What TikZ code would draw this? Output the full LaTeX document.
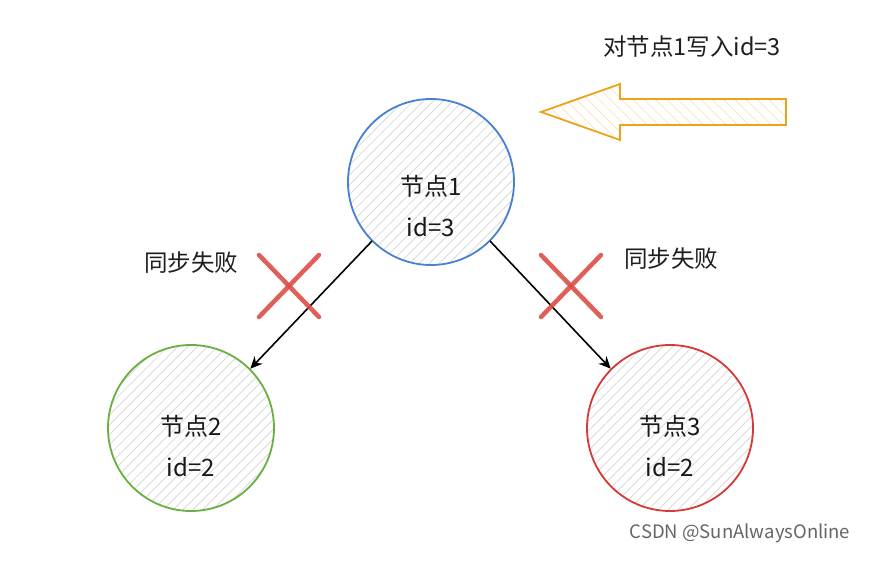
\documentclass[tikz,border=0pt]{standalone}
\usepackage{fontspec}
\setmainfont{Noto Sans CJK SC}
\usetikzlibrary{patterns.meta,arrows.meta}
\definecolor{nblue}{RGB}{74,128,208}
\definecolor{ngreen}{RGB}{104,176,64}
\definecolor{nred}{RGB}{214,58,54}
\definecolor{xred}{RGB}{220,78,72}
\definecolor{norange}{RGB}{238,162,28}
\definecolor{hatch}{RGB}{212,212,212}
\tikzset{
  nodecirc/.style={circle,minimum size=166pt,inner sep=0pt,line width=1.8pt,
    pattern={Lines[angle=45,distance=7pt,line width=0.7pt]},pattern color=hatch},
  nodetxt/.style={align=center,font=\fontsize{24pt}{41pt}\selectfont,text=black!90},
  conn/.style={line width=1.6pt,-{Stealth[length=12pt,width=11pt]}},
  xmark/.style={xred,line width=4.5pt,line cap=round,opacity=0.9},
  lbl/.style={font=\fontsize{23.5pt}{26pt}\selectfont,text=black!88},
}
\begin{document}
\begin{tikzpicture}[x=1pt,y=-1pt]
\fill[white] (0,0) rectangle (880,564);
\useasboundingbox (0,0) rectangle (880,564);
\node[nodecirc,draw=nblue] (n1) at (431,182) {};
\node[nodecirc,draw=ngreen] (n2) at (191,428) {};
\node[nodecirc,draw=nred] (n3) at (670,428) {};
\node[nodetxt] (t1) at (431,206) {节点1\\id=3};
\node[nodetxt] (t2) at (191,446) {节点2\\id=2};
\node[nodetxt] (t3) at (670,446) {节点3\\id=2};
\draw[conn] (n1.225) -- (n2.45);
\draw[conn] (n1.315) -- (n3.135);
% X marks
\coordinate (xa1) at (259,255); \coordinate (xa2) at (319,317);
\coordinate (xa3) at (319,255); \coordinate (xa4) at (259,317);
\draw[xmark] (xa1) -- (xa2); \draw[xmark] (xa3) -- (xa4);
\coordinate (xb1) at (541,255); \coordinate (xb2) at (601,317);
\coordinate (xb3) at (601,255); \coordinate (xb4) at (541,317);
\draw[xmark] (xb1) -- (xb2); \draw[xmark] (xb3) -- (xb4);
\node[lbl] (f1) at (191,263) {同步失败};
\node[lbl] (f2) at (671,259) {同步失败};
% orange arrow
\draw[norange,line width=1.8pt,line join=miter,
  pattern={Lines[angle=-45,distance=8pt,line width=0.7pt]},pattern color=norange!30]
  (541,112) -- (620,84) -- (620,99) -- (786,99) -- (786,125) -- (620,125) -- (620,140) -- cycle;
\node[lbl] (w) at (692,47) {对节点1写入id=3};
\node[font=\fontsize{18.5pt}{20pt}\selectfont,text=black!60] (c) at (740,533) {CSDN @SunAlwaysOnline};
\end{tikzpicture}
\end{document}
